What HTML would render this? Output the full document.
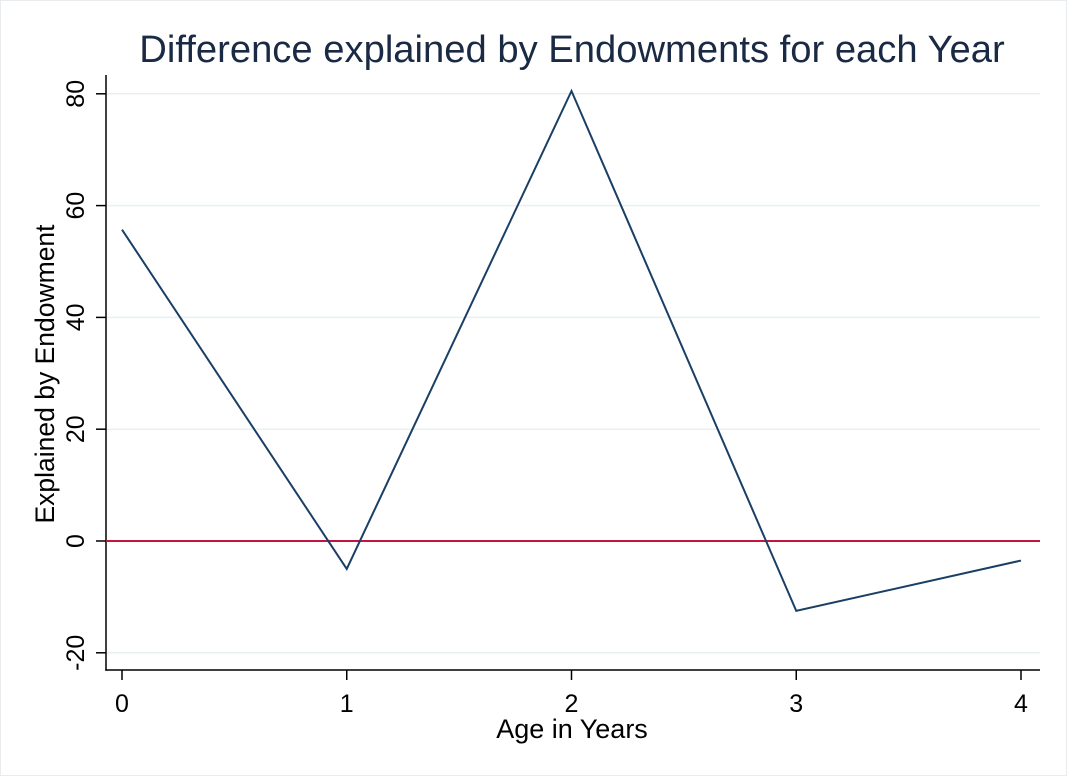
<!DOCTYPE html>
<html><head><meta charset="utf-8"><style>
html,body{margin:0;padding:0;background:#fff}
svg{display:block}
text{font-family:"Liberation Sans",Arial,sans-serif;fill:#000}
</style></head><body>
<svg id="chart" width="1067" height="776" viewBox="0 0 1067 776">
<rect x="0.5" y="0.5" width="1066" height="775" fill="#fff" stroke="#e8ecef"/>
<text x="572" y="62" font-size="38.2" text-anchor="middle" style="fill:#1a2a44">Difference explained by Endowments for each Year</text>
<g id="grid"></g>
<g id="axes"></g>
<g id="series"></g>
<text x="572" y="738" font-size="27" text-anchor="middle">Age in Years</text>
<text transform="translate(54,374) rotate(-90)" font-size="26.5" text-anchor="middle">Explained by Endowment</text>
</svg>
<script>
const categories = [0, 1, 2, 3, 4];
const values = [55.7, -5.0, 80.5, -12.5, -3.5];
const yTicks = [-20, 0, 20, 40, 60, 80];
const xTicks = [0, 1, 2, 3, 4];
const refLine = 0;

const NS = 'http://www.w3.org/2000/svg';
function xs(v){ return 122 + (v - 0) * 224.75; }
function ys(v){ return 541 - v * 5.59; }
function mk(tag, attrs, parent){
  const e = document.createElementNS(NS, tag);
  for (const k in attrs) e.setAttribute(k, attrs[k]);
  parent.appendChild(e); return e;
}
const grid = document.getElementById('grid');
const axes = document.getElementById('axes');
const series = document.getElementById('series');
yTicks.forEach(t => {
  const g = mk('line', {x1:106, x2:1040, y1:ys(t), y2:ys(t), stroke:'#e9f0f1', 'stroke-width':1.5}, grid);
  
  
  const tk = mk('line', {x1:96, x2:106, y1:ys(t), y2:ys(t), stroke:'#000', 'stroke-width':1.5}, axes);
  
  
  const lb = mk('text', {transform:'translate(84,' + ys(t) + ') rotate(-90)', 'font-size':25, 'text-anchor':'middle'}, axes);
  lb.textContent = t;
  
  
});
xTicks.forEach(t => {
  const tk = mk('line', {x1:xs(t), x2:xs(t), y1:670, y2:680, stroke:'#000', 'stroke-width':1.5}, axes);
  
  
  const lb = mk('text', {x:xs(t), y:712, 'font-size':25, 'text-anchor':'middle'}, axes);
  lb.textContent = t;
  
  
});
const ya = mk('line', {x1:106, x2:106, y1:75, y2:670.7, stroke:'#000', 'stroke-width':1.5}, axes);


const xa = mk('line', {x1:105.3, x2:1040, y1:670, y2:670, stroke:'#000', 'stroke-width':1.5}, axes);


const ref = mk('line', {x1:106, x2:1040, y1:ys(refLine), y2:ys(refLine), stroke:'#c4153f', 'stroke-width':2}, series);


const pts = categories.map((c, i) => xs(c) + ',' + ys(values[i])).join(' ');
const pl = mk('polyline', {points:pts, fill:'none', stroke:'#1a3f66', 'stroke-width':2}, series);


</script>
</body></html>
